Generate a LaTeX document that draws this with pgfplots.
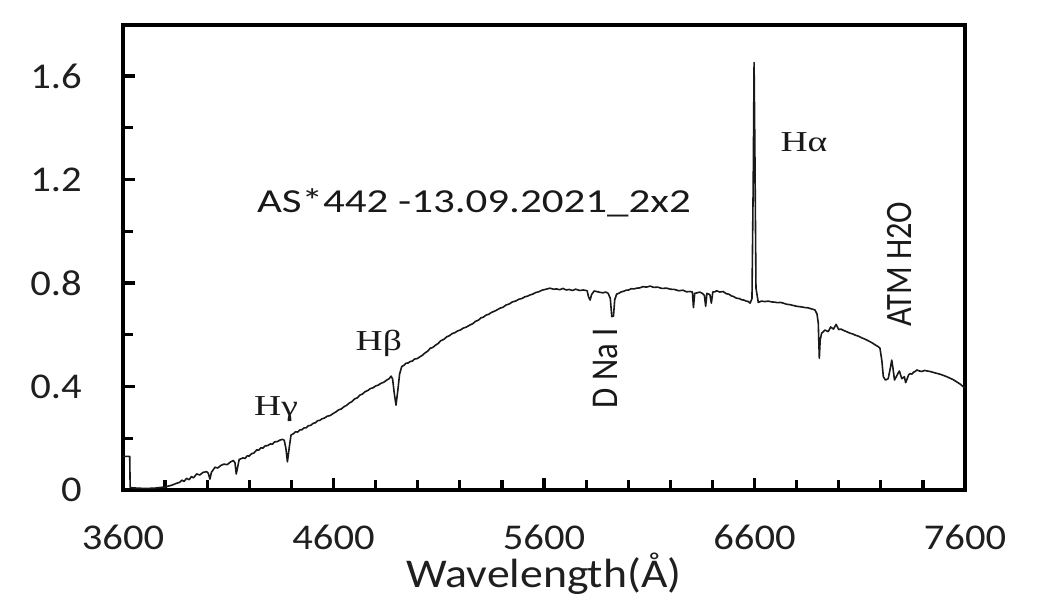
\documentclass[border=0pt]{standalone}
\usepackage{pgfplots}
\pgfplotsset{compat=1.18}
\usepackage{fontspec}
\setmainfont{Carlito}
\newfontfamily\tickfont[FakeStretch=1.12]{Carlito}
\newfontfamily\titlefont[FakeStretch=1.28]{Carlito}
\newfontfamily\grfont[FakeStretch=1.3]{Liberation Serif}
\newfontfamily\rotfont{Carlito}
\begin{document}
\begin{tikzpicture}
\path[use as bounding box] (-123bp,-116bp) rectangle (915bp,490bp);
\begin{axis}[
  at={(0,0)}, anchor=south west,
  scale only axis, width=842bp, height=465bp,
  xmin=3600, xmax=7600, ymin=0, ymax=1.797,
  xtick={3600,4600,5600,6600,7600},
  ytick={0,0.4,0.8,1.2,1.6},
  minor x tick num=4, minor y tick num=1,
  tick align=inside, tick pos=left,
  major tick length=12bp, minor tick length=10bp,
  every tick/.style={black, line width=3.2bp},
  axis line style={line width=4bp},
  /pgf/number format/assume math mode=true,
  /pgf/number format/set thousands separator={},
  /pgf/number format/fixed,
  tick label style={font=\fontsize{36.4}{40}\selectfont\tickfont, text=black!88},
  xticklabel style={anchor=north, inner sep=0pt, yshift=-35bp},
  yticklabel style={anchor=east, inner sep=0pt, xshift=-41bp},
  xlabel={Wavelength(Å)},
  xlabel style={at={(axis description cs:0.5,0)}, anchor=base, inner sep=0pt,
    yshift=-97bp, font=\fontsize{41}{44}\selectfont\tickfont, text=black!88},
  clip=false,
]
\addplot[black!90, line width=1.6bp, line join=round] coordinates {
(3600,0.130) (3632,0.130) (3634,0.010)
(3650,0.008) (3700,0.006) (3750,0.007) (3800,0.012) (3830,0.018) (3855,0.026)
(3870,0.030) (3880,0.038) (3890,0.033) (3902,0.045) (3915,0.040) (3925,0.052)
(3935,0.047) (3950,0.062) (3965,0.058) (3980,0.068) (3997,0.071) (4005,0.065)
(4013,0.042) (4020,0.068) (4037,0.088) (4050,0.085) (4065,0.095) (4080,0.100)
(4095,0.098) (4110,0.108) (4124,0.114) (4132,0.105) (4138,0.062) (4145,0.090)
(4152,0.118) (4170,0.124) (4180,0.122) (4190,0.132) (4200,0.131) (4210,0.140)
(4222,0.143) (4235,0.155) (4245,0.154) (4255,0.163) (4265,0.162) (4275,0.170)
(4288,0.172) (4300,0.178) (4310,0.177) (4320,0.186) (4333,0.187) (4346,0.193)
(4358,0.196) (4366,0.192) (4374,0.160) (4381,0.109) (4390,0.165) (4398,0.212)
(4410,0.218) (4420,0.225) (4430,0.224) (4440,0.232) (4450,0.233) (4460,0.240)
(4470,0.240) (4480,0.248) (4492,0.250) (4504,0.258) (4515,0.260) (4525,0.268)
(4535,0.269) (4545,0.275) (4557,0.278) (4570,0.285) (4585,0.288) (4599,0.296)
(4612,0.302) (4625,0.310) (4637,0.313) (4650,0.322) (4662,0.327) (4675,0.336)
(4688,0.342) (4700,0.352) (4713,0.356) (4726,0.367) (4738,0.371) (4750,0.380)
(4762,0.384) (4775,0.392) (4788,0.395) (4800,0.402) (4812,0.405) (4825,0.412)
(4840,0.417) (4853,0.425) (4864,0.430) (4874,0.440) (4881,0.428) (4888,0.378)
(4897,0.328) (4906,0.388) (4914,0.448) (4924,0.477) (4935,0.482) (4945,0.490)
(4955,0.491) (4965,0.497) (4975,0.498) (4985,0.506) (4998,0.508) (5011,0.515)
(5023,0.521) (5035,0.530) (5047,0.536) (5060,0.548) (5072,0.551) (5085,0.560)
(5097,0.566) (5110,0.577) (5124,0.582) (5138,0.592) (5150,0.596) (5165,0.605)
(5177,0.608) (5190,0.615) (5202,0.618) (5215,0.625) (5232,0.630) (5249,0.638)
(5262,0.643) (5275,0.652) (5288,0.656) (5300,0.665) (5312,0.668) (5325,0.676)
(5337,0.679) (5350,0.686) (5370,0.693) (5392,0.703) (5405,0.706) (5420,0.715)
(5435,0.719) (5450,0.727) (5465,0.730) (5480,0.737) (5495,0.740) (5510,0.747)
(5522,0.749) (5534,0.754) (5547,0.757) (5560,0.763) (5575,0.766) (5590,0.772)
(5610,0.776) (5628,0.780) (5645,0.776) (5660,0.777) (5675,0.774) (5690,0.779)
(5705,0.773) (5720,0.775) (5735,0.771) (5750,0.776) (5770,0.771) (5787,0.773)
(5805,0.770) (5812,0.745) (5819,0.734) (5826,0.755) (5838,0.769) (5850,0.767)
(5865,0.764) (5880,0.762) (5893,0.765) (5905,0.760) (5915,0.740) (5922,0.670)
(5930,0.672) (5936,0.735) (5945,0.757) (5955,0.760) (5965,0.765) (5978,0.768)
(5990,0.772) (6002,0.773) (6015,0.778) (6028,0.777) (6040,0.780) (6055,0.781)
(6070,0.786) (6087,0.784) (6104,0.788) (6122,0.783) (6140,0.784) (6160,0.779)
(6183,0.780) (6200,0.776) (6220,0.775) (6240,0.770) (6260,0.772) (6277,0.766)
(6294,0.767) (6305,0.765) (6310,0.705) (6316,0.760) (6328,0.762) (6340,0.765)
(6352,0.760) (6362,0.752) (6368,0.710) (6374,0.760) (6388,0.755) (6395,0.722)
(6402,0.765) (6412,0.766) (6420,0.770) (6435,0.765) (6451,0.767) (6465,0.759)
(6480,0.756) (6490,0.750) (6500,0.748) (6508,0.744) (6515,0.741) (6527,0.740)
(6540,0.735) (6550,0.734) (6560,0.730) (6570,0.729) (6579,0.722) (6588,0.740)
(6594,1.200) (6598,1.652) (6602,1.300) (6607,0.780) (6618,0.725) (6633,0.730)
(6650,0.728) (6665,0.730) (6680,0.727) (6695,0.726) (6710,0.724) (6724,0.725)
(6737,0.722) (6752,0.718) (6770,0.716) (6785,0.713) (6800,0.710) (6820,0.708)
(6840,0.705) (6855,0.704) (6870,0.700) (6887,0.696) (6897,0.680) (6903,0.645)
(6906,0.560) (6908,0.509) (6912,0.580) (6919,0.606) (6935,0.618) (6950,0.612)
(6962,0.630) (6975,0.622) (6988,0.640) (7000,0.620) (7010,0.622) (7020,0.618)
(7037,0.612) (7054,0.606) (7067,0.603) (7080,0.598) (7095,0.594) (7110,0.588)
(7130,0.581) (7149,0.573) (7162,0.567) (7175,0.560) (7186,0.555) (7196,0.548)
(7205,0.500) (7212,0.438) (7222,0.425) (7235,0.430) (7245,0.470) (7252,0.502)
(7258,0.470) (7265,0.425) (7275,0.440) (7288,0.460) (7300,0.430) (7312,0.438)
(7318,0.415) (7323,0.425) (7332,0.445) (7340,0.450) (7348,0.448) (7355,0.455)
(7363,0.458) (7371,0.464) (7383,0.460) (7395,0.458) (7408,0.462) (7420,0.460)
(7434,0.458) (7447,0.455) (7460,0.452) (7475,0.449) (7490,0.445) (7510,0.439)
(7529,0.432) (7545,0.426) (7560,0.418) (7576,0.410) (7592,0.399) (7600,0.395)
};
\node[anchor=base, inner sep=0pt, text=black!90] at (axis cs:5267,1.074)
  {\fontsize{33.7}{36}\selectfont\titlefont AS*442 -13.09.2021\_2x2};
\node[anchor=base, inner sep=0pt, text=black!90] at (axis cs:4327,0.286)
  {\fontsize{29}{32}\selectfont\grfont Hγ};
\node[anchor=base, inner sep=0pt, text=black!90] at (axis cs:4815,0.538)
  {\fontsize{29}{32}\selectfont\grfont Hβ};
\node[anchor=base, inner sep=0pt, text=black!90] at (axis cs:6835,1.307)
  {\fontsize{29}{32}\selectfont\grfont Hα};
\node[anchor=base, rotate=90, inner sep=0pt, text=black!90] at (axis cs:5951,0.471)
  {\scalebox{1}[1.15]{\fontsize{33}{36}\selectfont\rotfont D Na I}};
\node[anchor=base, rotate=90, inner sep=0pt, text=black!90] at (axis cs:7347,0.873)
  {\scalebox{1}[1.15]{\fontsize{32.5}{36}\selectfont\rotfont ATM H2O}};
\end{axis}
\end{tikzpicture}
\end{document}
